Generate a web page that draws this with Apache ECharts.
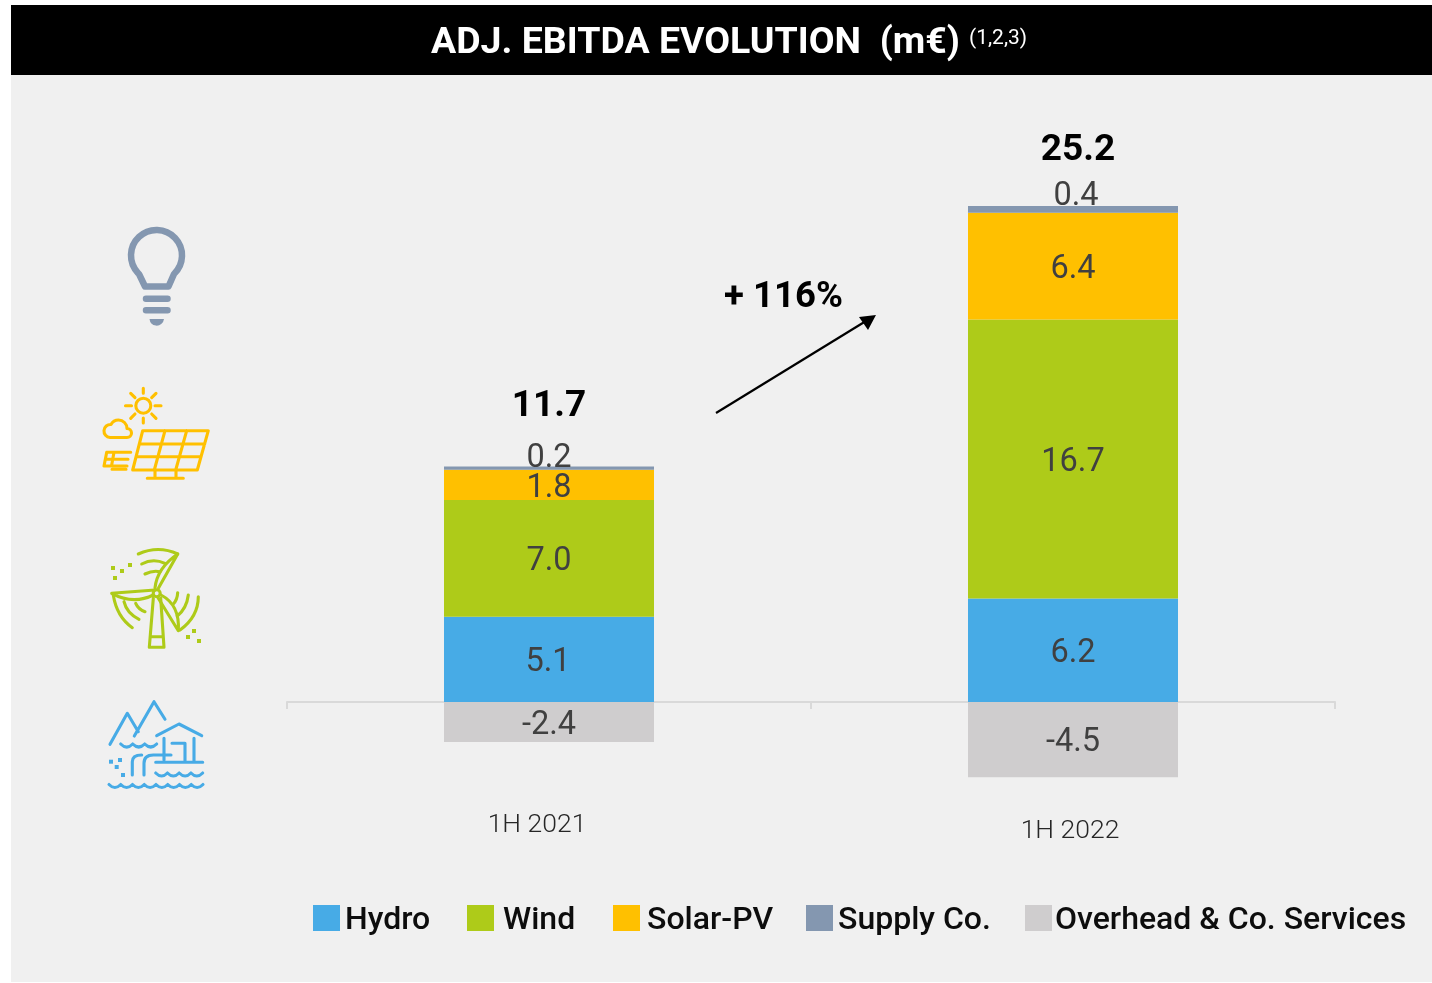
<!DOCTYPE html>
<html><head><meta charset="UTF-8">
<title>Adj. EBITDA evolution</title>
<script src="https://cdn.jsdelivr.net/npm/echarts@6/dist/echarts.min.js"></script>
<style>html,body{margin:0;padding:0;background:#fff}#g1{width:1432px;height:983px}</style>
</head>
<body>
<div id="g1"></div>
<script type="text/javascript">
var categories = ['1H 2021', '1H 2022'];
var hydro = [5.1, 6.2];
var wind = [7.0, 16.7];
var solar = [1.8, 6.4];
var supply = [0.2, 0.4];
var overhead = [-2.4, -4.5];
var totals = [11.7, 25.2];
var growth = '+ 116%';

var FONT = 'Roboto';
var C_HYDRO = '#47abe6', C_WIND = '#aecb19', C_SOLAR = '#ffc000', C_SUPPLY = '#8497b0', C_OVER = '#cfcdce';
var ICON_W = 3.1;

// value label, shifted by hand where the original slide had it moved
function items(values, offsets) {
    return values.map(function (v, i) {
        return {value: v, label: {offset: offsets ? offsets[i] : [0, 3.5]}};
    });
}
function bar(name, color, values, offsets) {
    return {
        name: name, type: 'bar', stack: 'a', barWidth: 210,
        itemStyle: {color: color},
        label: {
            show: true, position: 'inside', color: '#404040', fontFamily: FONT, fontSize: 32.5, fontWeight: 400,
            formatter: function (p) { return p.value.toFixed(1); }
        },
        data: items(values, offsets)
    };
}
function stroke(path, color, w) {
    return {type: 'path', shape: {pathData: path}, silent: true,
        style: {fill: 'none', stroke: color, lineWidth: w || ICON_W, lineCap: 'round', lineJoin: 'round'}};
}
function fill(path, color) {
    return {type: 'path', shape: {pathData: path}, silent: true, style: {fill: color}};
}
function dots(list, color) {
    return list.map(function (d) {
        return {type: 'rect', shape: {x: d[0] - 2, y: d[1] - 2, width: 4, height: 4}, silent: true, style: {fill: color}};
    });
}
function wave(x0, y, n, w) {
    var p = 'M' + x0 + ' ' + y;
    for (var i = 0; i < n; i++) {
        p += ' q' + (w / 2) + ' 6 ' + w + ' 0';
    }
    return p;
}

var bulb = [
    stroke('M145 286.5 L168.5 286.5 L174 274 A25.5 25.5 0 1 0 139 274 Z', C_SUPPLY, 6.5),
    stroke('M146 298.7 L167.5 298.7 M146 310.3 L167.5 310.3', C_SUPPLY, 6.5),
    fill('M149.5 319 L164 319 A7.3 7.5 0 0 1 149.5 319 Z', C_SUPPLY)
];
var solarIcon = [
    {type: 'circle', shape: {cx: 143.3, cy: 405.7, r: 7.5}, silent: true, style: {fill: 'none', stroke: C_SOLAR, lineWidth: ICON_W}},
    stroke('M143.3 388.3 L143.3 393.3 M143.3 418 L143.3 423 M125.5 405.7 L131.5 405.7 M155 405.7 L161 405.7 ' +
        'M130.7 393.3 L135 397.7 M156 393.3 L151.7 397.7 M130.7 418.3 L135 414 M156 418.3 L151.7 414', C_SOLAR),
    stroke('M110 437.5 L127 437.5 A4.5 4.5 0 0 0 127 428.5 A8.5 8.5 0 0 0 111 424.5 A6.5 6.5 0 0 0 110 437.5 Z', C_SOLAR),
    stroke('M142.7 430.7 L208.3 430.7 L197.3 470 L132.7 470 Z M139.3 444 L204.7 444 M136 456.7 L201 456.7 ' +
        'M165 430.7 L154.3 470 M186.7 430.7 L175.7 470 M155 470 L155 478.3 M176 470 L176 478.3 M147.3 478.3 L183.3 478.3', C_SOLAR),
    stroke('M106.7 452.3 L130.7 452.3 M106.7 452.3 L104 466 L127 466 M106 459.3 L128 459.3 M114 452.3 L111.5 466 M112 469.3 L126 469.3', C_SOLAR)
];
var windIcon = [
    {type: 'circle', shape: {cx: 156.7, cy: 593.3, r: 3.5}, silent: true, style: {fill: 'none', stroke: C_WIND, lineWidth: ICON_W}},
    stroke('M153.3 598.3 L149.3 647.3 L164 647.3 L160.7 598.3 M150.7 636.7 L162.7 636.7', C_WIND),
    stroke('M155 588 Q157 568 177.7 554 L158.5 588', C_WIND),
    stroke('M138.3 554 Q158.3 545 177.7 554 M141.7 564 Q153 558 165 563.3 M145 574 Q153 570 160 571.7', C_WIND),
    stroke('M155 590 L111.7 593.3 Q133.3 605 153.3 595', C_WIND),
    stroke('M113.3 595 Q116.7 616.7 132.3 627.7 M124 601.7 Q126.7 613.3 139 619.3 M135.7 603.3 Q138.3 609.3 145 611.7', C_WIND),
    stroke('M158.3 598.3 L178.3 630.7 Q180 605 161 595', C_WIND),
    stroke('M198.3 596.7 Q198.3 616.7 180 630 M188.3 595 Q186.7 608.3 177.3 616 M177.7 592.7 Q177.3 600 173.3 604', C_WIND)
].concat(dots([[113, 568], [122, 571], [130, 565], [115, 578], [194, 631], [188, 637], [199, 641]], C_WIND));
var hydroIcon = [
    stroke('M110 744.3 L127.3 713.3 L138.3 731.7 M134.3 736 L154 701.7 L165 719.3', C_HYDRO),
    stroke('M156.7 735.7 L179 724 L201.7 735.7', C_HYDRO),
    stroke(wave(120.7, 744, 3, 12), C_HYDRO),
    stroke(wave(155.7, 773, 4, 11.75), C_HYDRO),
    stroke(wave(109, 784.5, 8, 11.75), C_HYDRO),
    stroke('M164 738.3 L164 760 M172 743.3 L185 743.3 L185 761.7 M194 738.3 L194 761.7 M155.7 762.3 L202.7 762.3', C_HYDRO),
    stroke('M132.3 775 L132.3 761.7 Q132.3 755 141.7 755 M144 775 L144 763.3 Q144 755 153.3 755 L171 755', C_HYDRO)
].concat(dots([[111, 761.7], [120, 760], [116.7, 767], [123, 775]], C_HYDRO));

var legendSpec = [['Hydro', 313, 6], ['Wind', 467, 10], ['Solar-PV', 613, 8], ['Supply Co.', 806, 6], ['Overhead & Co. Services', 1025, 4]];

var option = {
    animation: false,
    backgroundColor: '#ffffff',
    title: [
        {text: 'ADJ. EBITDA EVOLUTION  (m€)', left: 426, top: 20, textStyle: {color: '#fff', fontFamily: FONT, fontSize: 37.5, fontWeight: 'bold'}},
        {text: '(1,2,3)', left: 964, top: 23, textStyle: {color: '#fff', fontFamily: FONT, fontSize: 21, fontWeight: 'normal'}}
    ],
    legend: legendSpec.map(function (l) {
        return {
            data: [l[0]], left: l[1] - 5, top: 900, icon: 'rect', itemWidth: 27, itemHeight: 26, selectedMode: false,
            formatter: '{a|{name}}',
            textStyle: {
                padding: [0, 0, 0, l[2] - 6],
                rich: {a: {color: '#0d0d0d', fontFamily: FONT, fontSize: 32, fontWeight: 500, padding: [6, 0, 0, 0]}}
            }
        };
    }),
    grid: {left: 287, right: 97, top: 201, height: 584.5},
    xAxis: {
        type: 'category',
        data: [
            {value: categories[0], textStyle: {padding: [0, 24, 0, 0]}},
            {value: categories[1], textStyle: {padding: [6, 6, 0, 0]}}
        ],
        axisLine: {onZero: true, lineStyle: {color: '#d9d9d9', width: 2}},
        axisTick: {show: true, length: 7, lineStyle: {color: '#d9d9d9', width: 2}},
        axisLabel: {margin: 26, color: '#262626', fontFamily: FONT, fontSize: 26.5, fontWeight: 300}
    },
    yAxis: {type: 'value', min: -5, max: 30, show: false},
    graphic: [
        {type: 'rect', z: -10, silent: true, shape: {x: 11, y: 75, width: 1421, height: 907}, style: {fill: '#f0f0f0'}},
        {type: 'rect', z: -10, silent: true, shape: {x: 11, y: 5, width: 1421, height: 70}, style: {fill: '#000'}},
        {type: 'line', silent: true, shape: {x1: 716, y1: 413, x2: 866, y2: 321}, style: {stroke: '#000', lineWidth: 2.2}},
        {type: 'polygon', silent: true, shape: {points: [[876, 315], [859, 317], [868, 330]]}, style: {fill: '#000'}},
        {type: 'text', silent: true, x: 783.5, y: 298, style: {text: growth, fill: '#000', font: 'bold 36.5px Roboto', align: 'center', verticalAlign: 'middle'}}
    ],
    series: [
        bar('Hydro', C_HYDRO, hydro, [[-1, 3.5], [0, 3.5]]),
        bar('Wind', C_WIND, wind),
        bar('Solar-PV', C_SOLAR, solar),
        bar('Supply Co.', C_SUPPLY, supply, [[0, -9.5], [3, -12.5]]),
        bar('Overhead & Co. Services', C_OVER, overhead),
        {
            name: 'Total', type: 'scatter', symbolSize: 1, itemStyle: {color: 'transparent', opacity: 1},
            label: {
                show: true, position: 'inside', color: '#000', fontFamily: FONT, fontSize: 37, fontWeight: 'bold',
                formatter: function (p) { return totals[p.dataIndex].toFixed(1); }
            },
            // sits on top of the positive stack
            data: totals.map(function (t, i) {
                return {
                    value: [i, hydro[i] + wind[i] + solar[i] + supply[i]],
                    label: {offset: i === 0 ? [0, -59.5] : [5, -55]}
                };
            })
        },
        {
            // pictograms on the left, graphic component has no path type
            name: 'icons', type: 'custom', silent: true, data: [[0, 0]],
            renderItem: function () {
                return {type: 'group', children: bulb.concat(solarIcon, windIcon, hydroIcon)};
            }
        }
    ]
};
var myChart = echarts.init(document.getElementById('g1'));
myChart.setOption(option);
</script>
</body></html>
